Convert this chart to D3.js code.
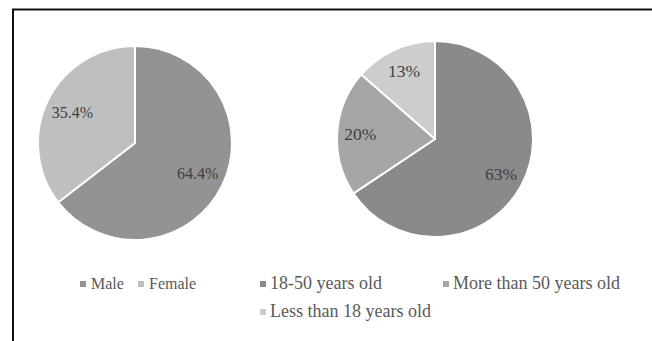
<!DOCTYPE html>
<html>
<head>
<meta charset="utf-8">
<script src="https://cdn.jsdelivr.net/npm/d3@7"></script>
<style>
  html, body { margin: 0; padding: 0; background: #fff; }
  svg { display: block; }
  svg text { font-family: "Liberation Serif", "Times New Roman", Times, "DejaVu Serif", serif; }
</style>
</head>
<body>
<svg id="chart" width="652" height="341"></svg>
<script>
// Gender split
const genderLabels = ["Male", "Female"];
const genderValues = [64.4, 35.4];
const genderText = ["64.4%", "35.4%"];

// Age groups
const ageLabels = ["18-50 years old", "More than 50 years old", "Less than 18 years old"];
const ageValues = [63, 20, 13];
const ageText = ["63%", "20%", "13%"];

const svg = d3.select("#chart");

// Frame around the figure
svg.append("rect")
  .attr("x", 13).attr("y", 9.5)
  .attr("width", 700).attr("height", 400)
  .attr("fill", "none")
  .attr("stroke", "#111")
  .attr("stroke-width", 2);

function drawPie(cx, cy, r, labelFactor, fontSize, values, texts, colors) {
  const pie = d3.pie().sort(null).value(d => d);
  const arcs = pie(values);
  const arc = d3.arc().innerRadius(0).outerRadius(r);
  const labelArc = d3.arc().innerRadius(r * labelFactor).outerRadius(r * labelFactor);
  const g = svg.append("g").attr("transform", `translate(${cx},${cy})`);
  g.selectAll("path").data(arcs).join("path")
    .attr("d", arc)
    .attr("fill", (d, i) => colors[i])
    .attr("stroke", "#fff")
    .attr("stroke-width", 2)
    .attr("stroke-linejoin", "round");
  g.selectAll("text").data(arcs).join("text")
    .attr("transform", d => `translate(${labelArc.centroid(d)})`)
    .attr("text-anchor", "middle")
    .attr("dy", "0.35em")
    .attr("font-size", fontSize)
    .attr("fill", "#404040")
    .text((d, i) => texts[i]);
}

const genderColors = d3.scaleOrdinal().domain(genderLabels).range(["#939393", "#bfbfbf"]);
const ageColors = d3.scaleOrdinal().domain(ageLabels).range(["#8a8a8a", "#a6a6a6", "#cdcdcd"]);

drawPie(135, 143, 97, 0.72, 16, genderValues, genderText, genderLabels.map(genderColors));
drawPie(435, 139, 98, 0.765, 17.5, ageValues, ageText, ageLabels.map(ageColors));

// Legends
function legendItem(x, y, label, color, fontSize, gap) {
  const g = svg.append("g").attr("transform", `translate(${x},${y})`);
  g.append("rect").attr("x", 0).attr("y", -8).attr("width", 6).attr("height", 6).attr("fill", color);
  g.append("text").attr("x", 6 + gap).attr("y", 0)
    .attr("font-size", fontSize)
    .attr("fill", "#595959").text(label);
}

const genderLegendX = [80, 138];
genderLabels.forEach((l, i) => legendItem(genderLegendX[i], 289, l, genderColors(l), 16, 5));

const ageLegendPos = [[260, 289], [443, 289], [260, 317]];
ageLabels.forEach((l, i) => legendItem(ageLegendPos[i][0], ageLegendPos[i][1], l, ageColors(l), 18, 4));
</script>
</body>
</html>
